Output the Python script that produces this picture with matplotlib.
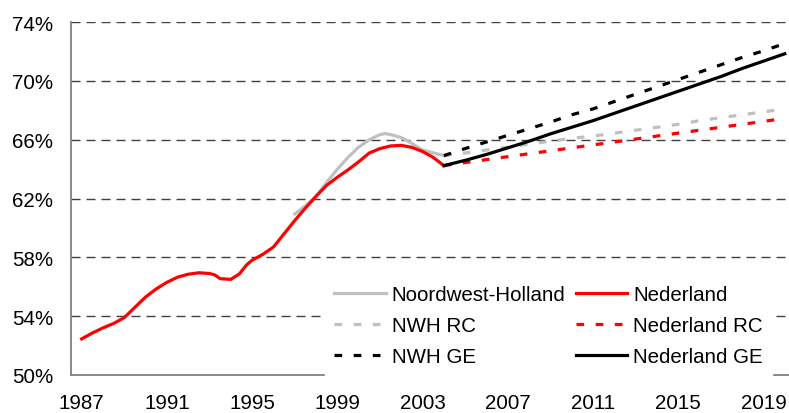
import matplotlib
matplotlib.use('Agg')
import matplotlib.pyplot as plt
from matplotlib.ticker import FuncFormatter

plt.rcParams['font.family'] = ['Liberation Sans', 'DejaVu Sans']

# history, Nederland (half-year steps)
nl_years = [1987.0, 1987.5, 1988.0, 1988.5, 1989.0, 1989.5, 1990.0, 1990.5,
            1991.0, 1991.5, 1992.0, 1992.5, 1993.0, 1993.25, 1993.5, 1994.0,
            1994.4, 1994.75, 1995.0, 1995.5, 1996.0, 1996.5, 1997.0, 1997.5,
            1998.0, 1998.5, 1999.0, 1999.5, 2000.0, 2000.5, 2001.0, 2001.5,
            2002.0, 2002.5, 2003.0, 2003.5, 2004.0]
nl_values = [52.45, 52.85, 53.2, 53.5, 53.9, 54.6, 55.3, 55.85,
             56.3, 56.65, 56.85, 56.95, 56.9, 56.8, 56.55, 56.5,
             56.87, 57.5, 57.8, 58.2, 58.7, 59.6, 60.5, 61.35,
             62.15, 62.9, 63.45, 63.95, 64.5, 65.1, 65.4, 65.58,
             65.62, 65.48, 65.2, 64.8, 64.24]

# history, Noordwest-Holland
nwh_years = [1997.0, 1997.5, 1998.0, 1998.5, 1999.0, 1999.5, 2000.0, 2000.5,
             2001.0, 2001.25, 2001.5, 2002.0, 2002.5, 2003.0, 2004.0]
nwh_values = [60.95, 61.5, 62.15, 63.1, 64.0, 64.8, 65.5, 66.0,
              66.35, 66.42, 66.35, 66.15, 65.75, 65.3, 64.92]

# projections 2004-2020
proj_years = list(range(2004, 2021))
nwh_rc = [64.92, 65.1, 65.3, 65.5, 65.7, 65.9, 66.1, 66.25, 66.45, 66.65,
          66.85, 67.05, 67.3, 67.5, 67.7, 67.9, 68.1]
nl_rc = [64.24, 64.45, 64.65, 64.85, 65.05, 65.25, 65.45, 65.65, 65.85, 66.05,
         66.25, 66.45, 66.65, 66.85, 67.05, 67.25, 67.46]
nwh_ge = [64.92, 65.4, 65.85, 66.3, 66.75, 67.2, 67.7, 68.1, 68.6, 69.1,
          69.6, 70.1, 70.6, 71.1, 71.6, 72.05, 72.55]
nl_ge = [64.24, 64.6, 65.0, 65.45, 65.9, 66.4, 66.85, 67.3, 67.8, 68.3,
         68.8, 69.3, 69.8, 70.3, 70.85, 71.35, 71.85]

xticks = [1987, 1991, 1995, 1999, 2003, 2007, 2011, 2015, 2019]
yticks = [50, 54, 58, 62, 66, 70, 74]

gray = '#C0C0C0'
red = '#FF0000'
dash = (0, (2.4, 3.6))
fs = 14.8

fig = plt.figure(figsize=(7.89, 4.14), dpi=100)
ax = fig.add_axes([0.09, 0.092, 0.9095, 0.852])

h_nwh, = ax.plot(nwh_years, nwh_values, color=gray, lw=2.3, label='Noordwest-Holland')
h_nl, = ax.plot(nl_years, nl_values, color=red, lw=2.3, label='Nederland')
h_nwh_rc, = ax.plot(proj_years, nwh_rc, color=gray, lw=2.3, linestyle=dash, label='NWH RC')
h_nl_rc, = ax.plot(proj_years, nl_rc, color=red, lw=2.3, linestyle=dash, label='Nederland RC')
h_nwh_ge, = ax.plot(proj_years, nwh_ge, color='black', lw=2.3, linestyle=dash, label='NWH GE')
h_nl_ge, = ax.plot(proj_years, nl_ge, color='black', lw=2.3, label='Nederland GE')

ax.set_xlim(1986.5, 2020.18)
ax.set_ylim(50, 74)
ax.set_xticks(xticks)
ax.set_yticks(yticks)
ax.yaxis.set_major_formatter(FuncFormatter(lambda v, p: '%d%%' % v))
ax.tick_params(axis='both', length=0, labelsize=fs)
ax.tick_params(axis='x', pad=13)
ax.tick_params(axis='y', pad=13)

ax.yaxis.grid(True, color='#404040', lw=1, linestyle=(0, (6.5, 4.3)))
ax.set_axisbelow(True)
for s in ['top', 'right']:
    ax.spines[s].set_visible(False)
for s in ['left', 'bottom']:
    ax.spines[s].set_color('#808080')
    ax.spines[s].set_linewidth(1.3)
    ax.spines[s].set_zorder(5)

leg = ax.legend(handles=[h_nwh, h_nwh_rc, h_nwh_ge, h_nl, h_nl_rc, h_nl_ge],
                ncol=2, loc='upper left', bbox_to_anchor=(0.354, 0.28),
                borderaxespad=0, frameon=True, fancybox=False, fontsize=fs,
                handlelength=2.5, handletextpad=0.3, columnspacing=0.5,
                labelspacing=0.575, borderpad=0.45)
leg.get_frame().set_facecolor('white')
leg.get_frame().set_edgecolor('white')
leg.get_frame().set_alpha(1)

plt.savefig('out.png', dpi=100)
